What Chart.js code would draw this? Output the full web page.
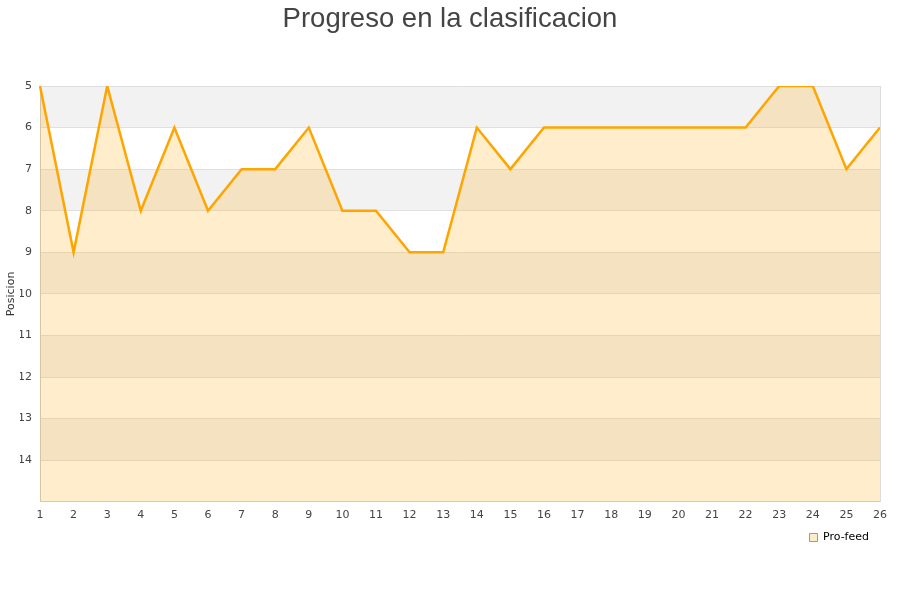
<!DOCTYPE html>
<html>
<head>
<meta charset="utf-8">
<title>Progreso en la clasificacion</title>
<script src="https://cdn.jsdelivr.net/npm/chart.js@4/dist/chart.umd.min.js"></script>
<style>
  html, body { margin: 0; padding: 0; background: #fff; }
  #wrap { width: 900px; height: 600px; }
</style>
</head>
<body>
<div id="wrap"><canvas id="chart" width="900" height="600"></canvas></div>
<script>
// jornadas (x axis)
const rounds = ['1','2','3','4','5','6','7','8','9','10','11','12','13','14','15','16','17','18','19','20','21','22','23','24','25','26'];
// posicion por jornada
const positions = [5, 9, 5, 8, 6, 8, 7, 7, 6, 8, 8, 9, 9, 6, 7, 6, 6, 6, 6, 6, 6, 6, 5, 5, 7, 6];
// rango del eje y (invertido)
const yMin = 5;
const yMax = 15;
// franjas grises del fondo (inicio de cada franja)
const bandStarts = [5, 7, 9, 11, 13];

const teamName = 'Pro-feed';

// fondo a franjas + borde derecho del area
const bandsPlugin = {
    id: 'bands',
    beforeDraw(chart) {
        const { ctx, chartArea, scales } = chart;
        const y = scales.y;
        ctx.save();
        ctx.fillStyle = '#f2f2f2';
        bandStarts.forEach(v => {
            const top = y.getPixelForValue(v);
            const bottom = y.getPixelForValue(v + 1);
            ctx.fillRect(chartArea.left, top, chartArea.right - chartArea.left, bottom - top);
        });
        ctx.restore();
    },
    afterDatasetsDraw(chart) {
        const { ctx, chartArea } = chart;
        ctx.save();
        ctx.strokeStyle = '#dddddd';
        ctx.lineWidth = 1;
        ctx.beginPath();
        ctx.moveTo(Math.round(chartArea.right) + 0.5, chartArea.top);
        ctx.lineTo(Math.round(chartArea.right) + 0.5, chartArea.bottom);
        ctx.stroke();
        ctx.restore();
    }
};

const tickFont = { family: 'DejaVu Sans', size: 11 };

new Chart(document.getElementById('chart'), {
    type: 'line',
    data: {
        labels: rounds,
        datasets: [{
            label: teamName,
            data: positions,
            borderColor: '#ffa500',
            borderWidth: 2.5,
            backgroundColor: 'rgba(255,165,0,0.2)',
            fill: { value: yMax },
            pointRadius: 0,
            pointHoverRadius: 0,
            tension: 0
        }]
    },
    options: {
        responsive: false,
        animation: false,
        // same left/right so the title sits on the page centre
        layout: { padding: { left: 20, right: 20, top: 0, bottom: 47 } },
        plugins: {
            title: {
                display: true,
                text: 'Progreso en la clasificacion',
                color: '#444',
                font: { family: 'Liberation Sans', size: 27.5, weight: 'normal' },
                padding: { top: 3, bottom: 50 }
            },
            legend: {
                position: 'bottom',
                align: 'end',
                labels: {
                    boxWidth: 8,
                    boxHeight: 8,
                    padding: 11,
                    color: '#222',
                    font: { family: 'DejaVu Sans', size: 11 },
                    generateLabels: (chart) => chart.data.datasets.map((ds, i) => ({
                        text: ds.label,
                        fillStyle: '#fdecc9',
                        strokeStyle: '#999',
                        lineWidth: 1,
                        datasetIndex: i
                    }))
                }
            },
            tooltip: { enabled: false }
        },
        scales: {
            x: {
                offset: false,
                grid: { display: false },
                border: { display: true, color: '#cccccc' },
                ticks: { color: '#444', font: tickFont, maxRotation: 0, autoSkip: false, padding: -1 }
            },
            y: {
                reverse: true,
                min: yMin,
                max: yMax,
                afterFit: (scale) => { scale.width = 20; },
                title: {
                    display: true,
                    text: 'Posicion',
                    color: '#333',
                    font: { family: 'DejaVu Sans', size: 11 },
                    padding: { top: -15, bottom: 0 }
                },
                grid: { color: '#e0e0e0', drawTicks: false },
                border: { display: true, color: '#cccccc' },
                ticks: {
                    stepSize: 1,
                    color: '#444',
                    font: tickFont,
                    padding: 8,
                    callback: (v) => (v === yMax ? '' : v)
                }
            }
        }
    },
    plugins: [bandsPlugin]
});
</script>
</body>
</html>
